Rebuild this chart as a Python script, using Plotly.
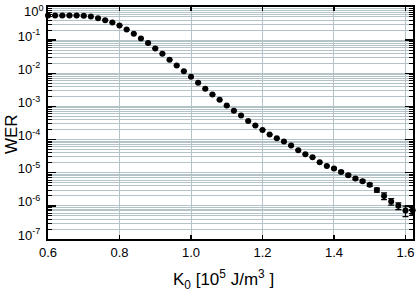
import plotly.graph_objects as go

k0 = [0.60, 0.62, 0.64, 0.66, 0.68, 0.70, 0.72, 0.74, 0.76, 0.78,
      0.80, 0.82, 0.84, 0.86, 0.88, 0.90, 0.92, 0.94, 0.96, 0.98,
      1.00, 1.02, 1.04, 1.06, 1.08, 1.10, 1.12, 1.14, 1.16, 1.18,
      1.20, 1.22, 1.24, 1.26, 1.28, 1.30, 1.32, 1.34, 1.36, 1.38,
      1.40, 1.42, 1.44, 1.46, 1.48, 1.50, 1.52, 1.54, 1.56, 1.58,
      1.60, 1.62]
wer = [0.555, 0.555, 0.555, 0.555, 0.555, 0.543, 0.518, 0.460, 0.400, 0.341,
       0.277, 0.210, 0.156, 0.112, 0.0813, 0.0562, 0.0389, 0.0254, 0.0173, 0.0116,
       0.0078, 0.00514, 0.00339, 0.00228, 0.00158, 0.00106, 7.46e-4, 5.28e-4, 3.63e-4, 2.64e-4,
       1.95e-4, 1.42e-4, 1.09e-4, 8.71e-5, 6.59e-5, 4.76e-5, 3.61e-5, 2.93e-5, 2.07e-5, 1.60e-5,
       1.34e-5, 1.06e-5, 8.41e-6, 6.68e-6, 5.55e-6, 4.30e-6, 3.03e-6, 2.00e-6, 1.36e-6, 1.00e-6,
       7.26e-7, 7.41e-7]
wer_err = [0]*40 + [0.8e-6, 0.7e-6, 0.6e-6, 0.5e-6, 0.45e-6, 0.43e-6, 0.42e-6, 0.46e-6, 0.31e-6, 0.23e-6,
                    0.25e-6, 0.21e-6]

ytick_vals = [1, 1e-1, 1e-2, 1e-3, 1e-4, 1e-5, 1e-6, 1e-7]
ytick_text = ["10<sup>0</sup>", "10<sup>-1</sup>", "10<sup>-2</sup>", "10<sup>-3</sup>",
              "10<sup>-4</sup>", "10<sup>-5</sup>", "10<sup>-6</sup>", "10<sup>-7</sup>"]
xtick_vals = [0.6, 0.8, 1.0, 1.2, 1.4, 1.6]
xtick_text = ["0.6", "0.8", "1.0", "1.2", "1.4", "1.6"]

FONT = "Liberation Sans, Arial, Helvetica, sans-serif"
GRID = "#b4c3c8"

fig = go.Figure()
fig.add_trace(go.Scatter(
    x=k0, y=wer, mode="markers",
    marker=dict(color="black", size=6),
    error_y=dict(type="data", array=wer_err, color="black", thickness=1.2, width=3),
    showlegend=False, cliponaxis=False, hoverinfo="skip",
))

fig.update_layout(
    width=416, height=292,
    margin=dict(l=48, r=3, t=7, b=53, autoexpand=False),
    paper_bgcolor="white", plot_bgcolor="white",
    font=dict(family=FONT, size=13, color="black"),
    xaxis=dict(
        range=[0.6, 1.621], tickvals=xtick_vals, ticktext=xtick_text,
        ticks="inside", ticklen=4, tickwidth=1.5, tickcolor="black",
        showgrid=True, gridcolor=GRID, gridwidth=1,
        showline=True, linecolor="black", linewidth=2, mirror="ticks",
        zeroline=False, tickfont=dict(size=13), automargin=False,
    ),
    yaxis=dict(
        type="log", range=[-7, 0], tickvals=ytick_vals[1:], ticktext=ytick_text[1:],
        ticks="inside", ticklen=8, tickwidth=1.5, tickcolor="black",
        showgrid=True, gridcolor=GRID, gridwidth=1,
        showline=True, linecolor="black", linewidth=2, mirror="ticks",
        zeroline=False, tickfont=dict(size=13), automargin=False,
        ticklabelshift=-4, ticklabelstandoff=3,
        minor=dict(ticks="inside", ticklen=4, tickcolor="black", tickwidth=1,
                   dtick="D1", showgrid=True, gridcolor=GRID, gridwidth=1),
    ),
    annotations=[
        dict(text=ytick_text[0], xref="paper", yref="y", x=0, y=0,
             xanchor="right", yanchor="middle", xshift=-2, yshift=-4,
             showarrow=False, font=dict(size=13, family=FONT)),
        dict(text="WER", xref="paper", yref="paper", x=-0.1, y=0.45,
             xanchor="center", yanchor="middle", textangle=-90,
             showarrow=False, font=dict(size=17, family=FONT)),
        dict(text="K<sub>0</sub> [10<sup>5</sup> J/m<sup>3</sup> ]", xref="paper", yref="paper",
             x=0.48, y=-0.11, xanchor="center", yanchor="top",
             showarrow=False, font=dict(size=17, family=FONT)),
    ],
)

fig.write_html("out.html", config={"displayModeBar": False, "staticPlot": True},
               post_script="document.body.style.margin='0px';")
